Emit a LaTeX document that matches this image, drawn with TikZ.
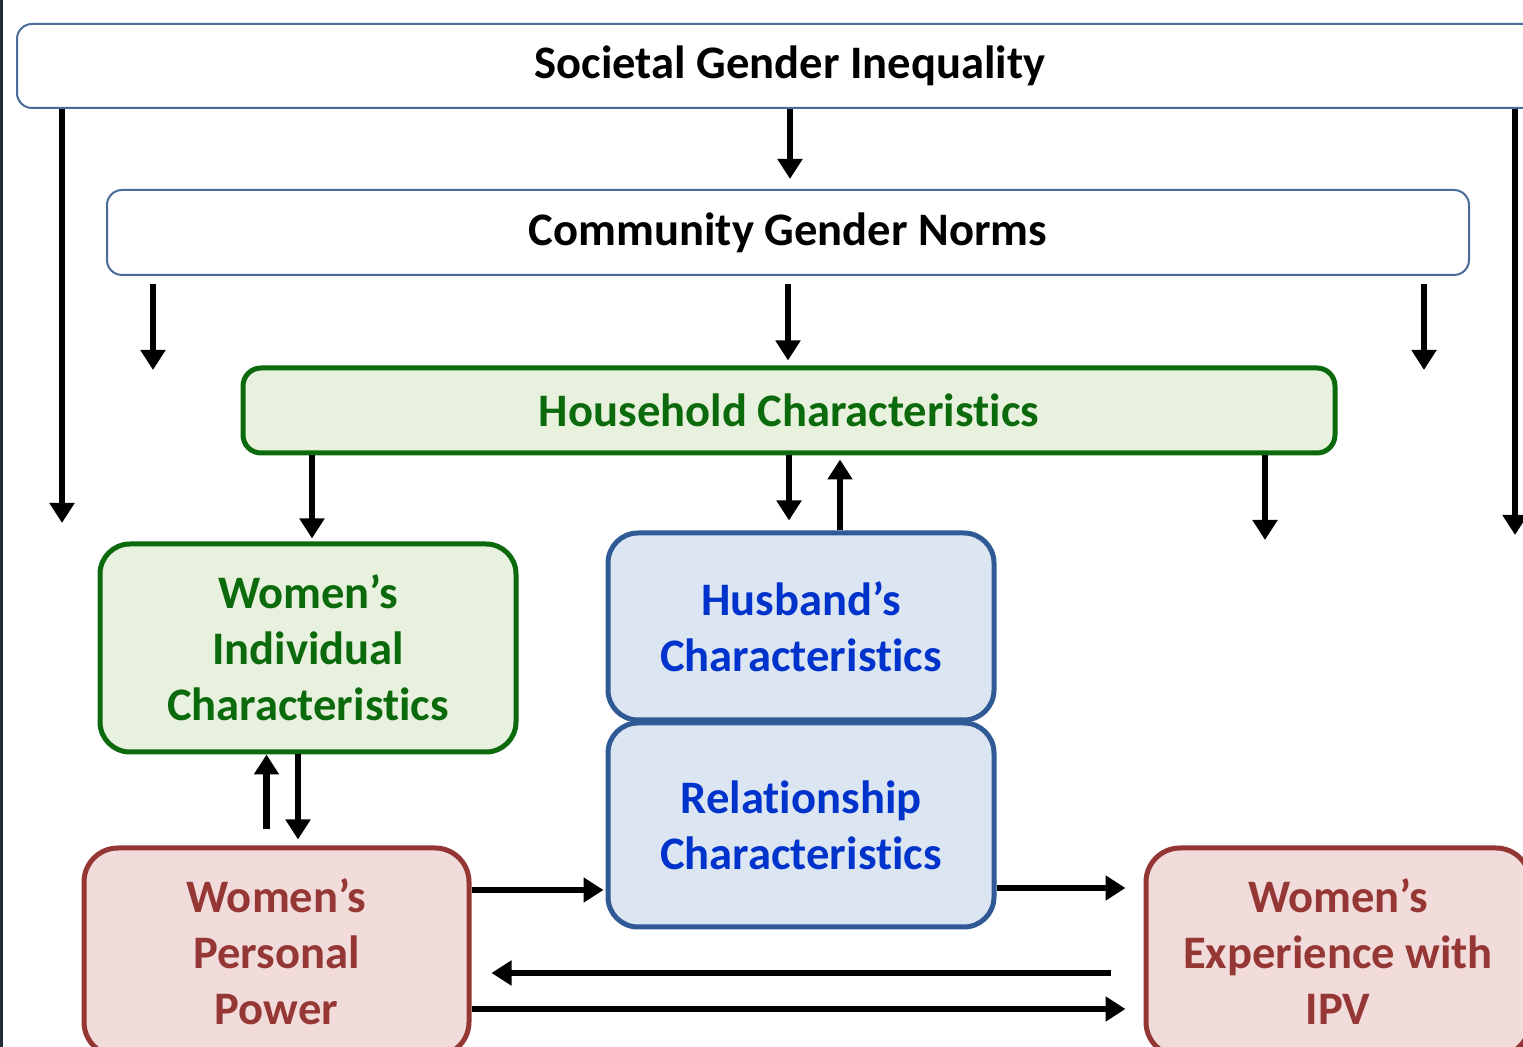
\documentclass[tikz,border=0pt]{standalone}
\usepackage{fontspec}
\setmainfont[Ligatures=NoCommon]{Carlito}
\usetikzlibrary{arrows.meta}
\definecolor{frameblue}{HTML}{4A6C9B}
\definecolor{hhgreen}{HTML}{0B6A0B}
\definecolor{hhfill}{HTML}{E8F1DE}
\definecolor{husline}{HTML}{2F5A96}
\definecolor{husfill}{HTML}{DCE6F2}
\definecolor{hustext}{HTML}{0033CC}
\definecolor{ppline}{HTML}{943634}
\definecolor{ppfill}{HTML}{F2DCDB}
\definecolor{pptext}{HTML}{953735}
\definecolor{edge}{HTML}{1E2A38}
\tikzset{
  levelbox/.style={draw=frameblue, line width=1pt, fill=white, rounded corners=7.5pt,
    font=\bfseries\fontsize{23.3}{28}\selectfont, text=black, inner sep=0pt},
  greenbox/.style={draw=hhgreen, line width=2.5pt, fill=hhfill, text=hhgreen,
    font=\bfseries\fontsize{23.3}{28}\selectfont, align=center, inner sep=0pt},
  bluebox/.style={draw=husline, line width=2.5pt, fill=husfill, text=hustext,
    rounded corners=15pt, font=\bfseries\fontsize{23.3}{28}\selectfont, align=center, inner sep=0pt},
  redbox/.style={draw=ppline, line width=2.5pt, fill=ppfill, text=pptext,
    rounded corners=17pt, font=\bfseries\fontsize{23.3}{28}\selectfont, align=center, inner sep=0pt},
  arr/.style={draw=black, line width=3.3pt, -{Triangle[width=12pt,length=10pt]}},
}
\begin{document}
\begin{tikzpicture}[x=0.5pt,y=-0.5pt]
\useasboundingbox (0,0) rectangle (1523,1047);
\clip (0,0) rectangle (1523,1047);

% thin dark rule along the left edge
\fill[edge] (0,0) rectangle (3,1047);

% levels
\node[levelbox, minimum width=773pt, minimum height=42pt] (soc) at (790,66) {\raisebox{-1.5pt}{Societal Gender Inequality}};
\node[levelbox, minimum width=681pt, minimum height=42.5pt] (com) at (788,232.5) {\raisebox{-1.5pt}{Community Gender Norms}};
\node[greenbox, rounded corners=9pt, minimum width=546pt, minimum height=42.5pt] (hh) at (789,410.5) {Household Characteristics};

% inner boxes
\node[greenbox, rounded corners=15pt, minimum width=208pt, minimum height=104pt] (wi) at (308,648) {Women’s\\Individual\\Characteristics};
\node[bluebox, minimum width=193pt, minimum height=93.5pt] (hus) at (801,626.5) {Husband’s\\Characteristics};
\node[bluebox, minimum width=193pt, minimum height=102pt] (rel) at (801,825) {Relationship\\Characteristics};
\node[redbox, minimum width=192.5pt, minimum height=104pt] (pp) at (276.5,952) {Women’s\\Personal\\Power};
\node[redbox, minimum width=192pt, minimum height=104pt] (ipv) at (1338,952) {Women’s\\Experience with\\IPV};

% free ends of the open arrows
\coordinate (sL) at (62,523);
\coordinate (sR) at (1515,535);
\coordinate (cL) at (153,370);
\coordinate (cR) at (1424,370);
\coordinate (hR) at (1265,540);

% societal level
\draw[arr, shorten >=5pt] (soc.south) -- (soc.south |- com.north);
\draw[arr] (soc.south -| sL) -- (sL);
\draw[arr] (soc.south -| sR) -- (sR);

% community level
\draw[arr, shorten <=4pt] (com.south -| cL) -- (cL);
\draw[arr, shorten <=4pt, shorten >=2.5pt] (com.south) -- (com.south |- hh.north);
\draw[arr, shorten <=4pt] (com.south -| cR) -- (cR);

% household level
\draw[arr, shorten >=1.5pt] ([xshift=2pt]wi.north |- hh.south) -- ([xshift=2pt]wi.north);
\draw[arr, shorten >=5pt] (hh.south) -- (hh.south |- hus.north);
\draw[arr, shorten >=2pt] ([xshift=19.5pt]hus.north) -- ([xshift=19.5pt]hus.north |- hh.south);
\draw[arr] (hh.south -| hR) -- (hR);

% individual and personal power
\draw[arr, shorten <=8pt] ([xshift=-5pt]pp.north) -- ([xshift=-5pt]pp.north |- wi.south);
\draw[arr, shorten >=3pt] ([xshift=10.75pt]pp.north |- wi.south) -- ([xshift=10.75pt]pp.north);

% paths toward IPV
\draw[arr, shorten >=1pt] ([yshift=31pt]pp.east) -- ([yshift=31pt]pp.east -| rel.west);
\draw[arr, shorten >=9pt] ([yshift=-31.5pt]rel.east) -- ([yshift=-31.5pt]rel.east -| ipv.west);
\draw[arr, shorten <=16.5pt, shorten >=10pt] ([yshift=-10.5pt]ipv.west) -- ([yshift=-10.5pt]ipv.west -| pp.east);
\draw[arr, shorten >=9pt] ([yshift=-28.5pt]pp.east) -- ([yshift=-28.5pt]pp.east -| ipv.west);
\end{tikzpicture}
\end{document}
